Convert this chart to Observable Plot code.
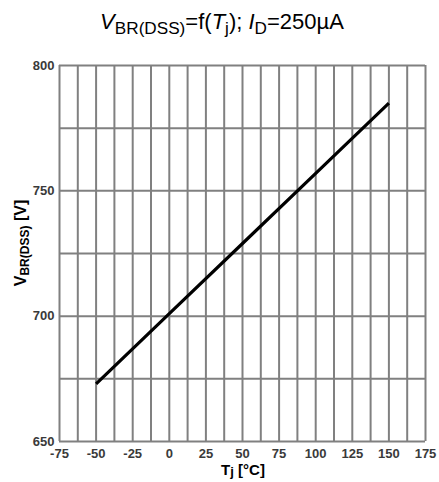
<!DOCTYPE html>
<html>
<head>
<meta charset="utf-8">
<script src="https://cdn.jsdelivr.net/npm/d3@7"></script>
<script src="https://cdn.jsdelivr.net/npm/@observablehq/plot@0.6"></script>
<style>
  html, body { margin: 0; padding: 0; background: #fff; }
  #title {
    height: 42px; box-sizing: border-box; padding-top: 11px; padding-left: 5px;
    text-align: center; font-family: "Liberation Sans", Arial, sans-serif;
    font-size: 22px; line-height: 22px; color: #000; white-space: nowrap;
  }
  #title sub { font-size: 0.78em; vertical-align: baseline; position: relative; top: 0.28em; line-height: 0; }
  #chart svg { display: block; }
</style>
</head>
<body>
<div id="title"><i>V</i><sub>BR(DSS)</sub>=f(<i>T</i><sub>j</sub>); <i>I</i><sub>D</sub>=250µA</div>
<div id="chart"></div>
<script>
// Data
const temperatures = [-50, 0, 50, 100, 150];
const breakdownVoltage = [673, 701, 729, 757, 785];

const xTicks = [-75, -50, -25, 0, 25, 50, 75, 100, 125, 150, 175];
const yTicks = [650, 700, 750, 800];
const xGrid = [-75, -62.5, -50, -37.5, -25, -12.5, 0, 12.5, 25, 37.5, 50, 62.5, 75, 87.5, 100, 112.5, 125, 137.5, 150, 162.5, 175];
const yGrid = [650, 675, 700, 725, 750, 775, 800];

const data = temperatures.map((t, i) => ({t, v: breakdownVoltage[i]}));

const gridColor = "#808080";
const tickOpts = {tickSize: 0, label: null, tickFormat: d => String(d)};
const plot = Plot.plot({
  width: 439,
  height: 440,
  marginLeft: 59,
  marginRight: 14,
  marginTop: 23,
  marginBottom: 41,
  style: {fontFamily: "'Liberation Sans', Arial, sans-serif", background: "#fff"},
  x: {domain: [-75, 175]},
  y: {domain: [650, 800]},
  marks: [
    Plot.ruleX(xGrid, {stroke: gridColor, strokeWidth: 2, strokeOpacity: 1}),
    Plot.ruleY(yGrid, {stroke: gridColor, strokeWidth: 2, strokeOpacity: 1}),
    Plot.axisX({...tickOpts, ticks: xTicks, tickPadding: 7}),
    Plot.axisY({...tickOpts, ticks: yTicks, tickPadding: 5}),
    Plot.line(data, {x: "t", y: "v", stroke: "#000", strokeWidth: 3.2, strokeLinecap: "butt"})
  ]
});
document.getElementById("chart").appendChild(plot);

const svg = d3.select(plot);
const font = "'Liberation Sans', Arial, sans-serif";
// Tick label styling
svg.selectAll("text")
  .style("font-size", "13px").style("font-weight", "bold")
  .style("font-family", font).style("fill", "#3a3a3a");
// Y axis label
const yl = svg.append("text")
  .attr("transform", "translate(26,201) rotate(-90)")
  .attr("text-anchor", "middle")
  .style("font-family", font).style("font-weight", "bold").style("font-size", "16px").style("fill", "#000");
yl.append("tspan").text("V");
yl.append("tspan").style("font-size", "12px").attr("dy", 3).text("BR(DSS)");
yl.append("tspan").attr("dy", -3).text(" [V]");
// X axis label
const xl = svg.append("text")
  .attr("x", 243).attr("y", 433)
  .attr("text-anchor", "middle")
  .style("font-family", font).style("font-weight", "bold").style("font-size", "15px").style("fill", "#000");
xl.append("tspan").text("T");
xl.append("tspan").style("font-size", "13px").attr("dy", 1).text("j");
xl.append("tspan").attr("dy", -1).text(" [°C]");
</script>
</body>
</html>
